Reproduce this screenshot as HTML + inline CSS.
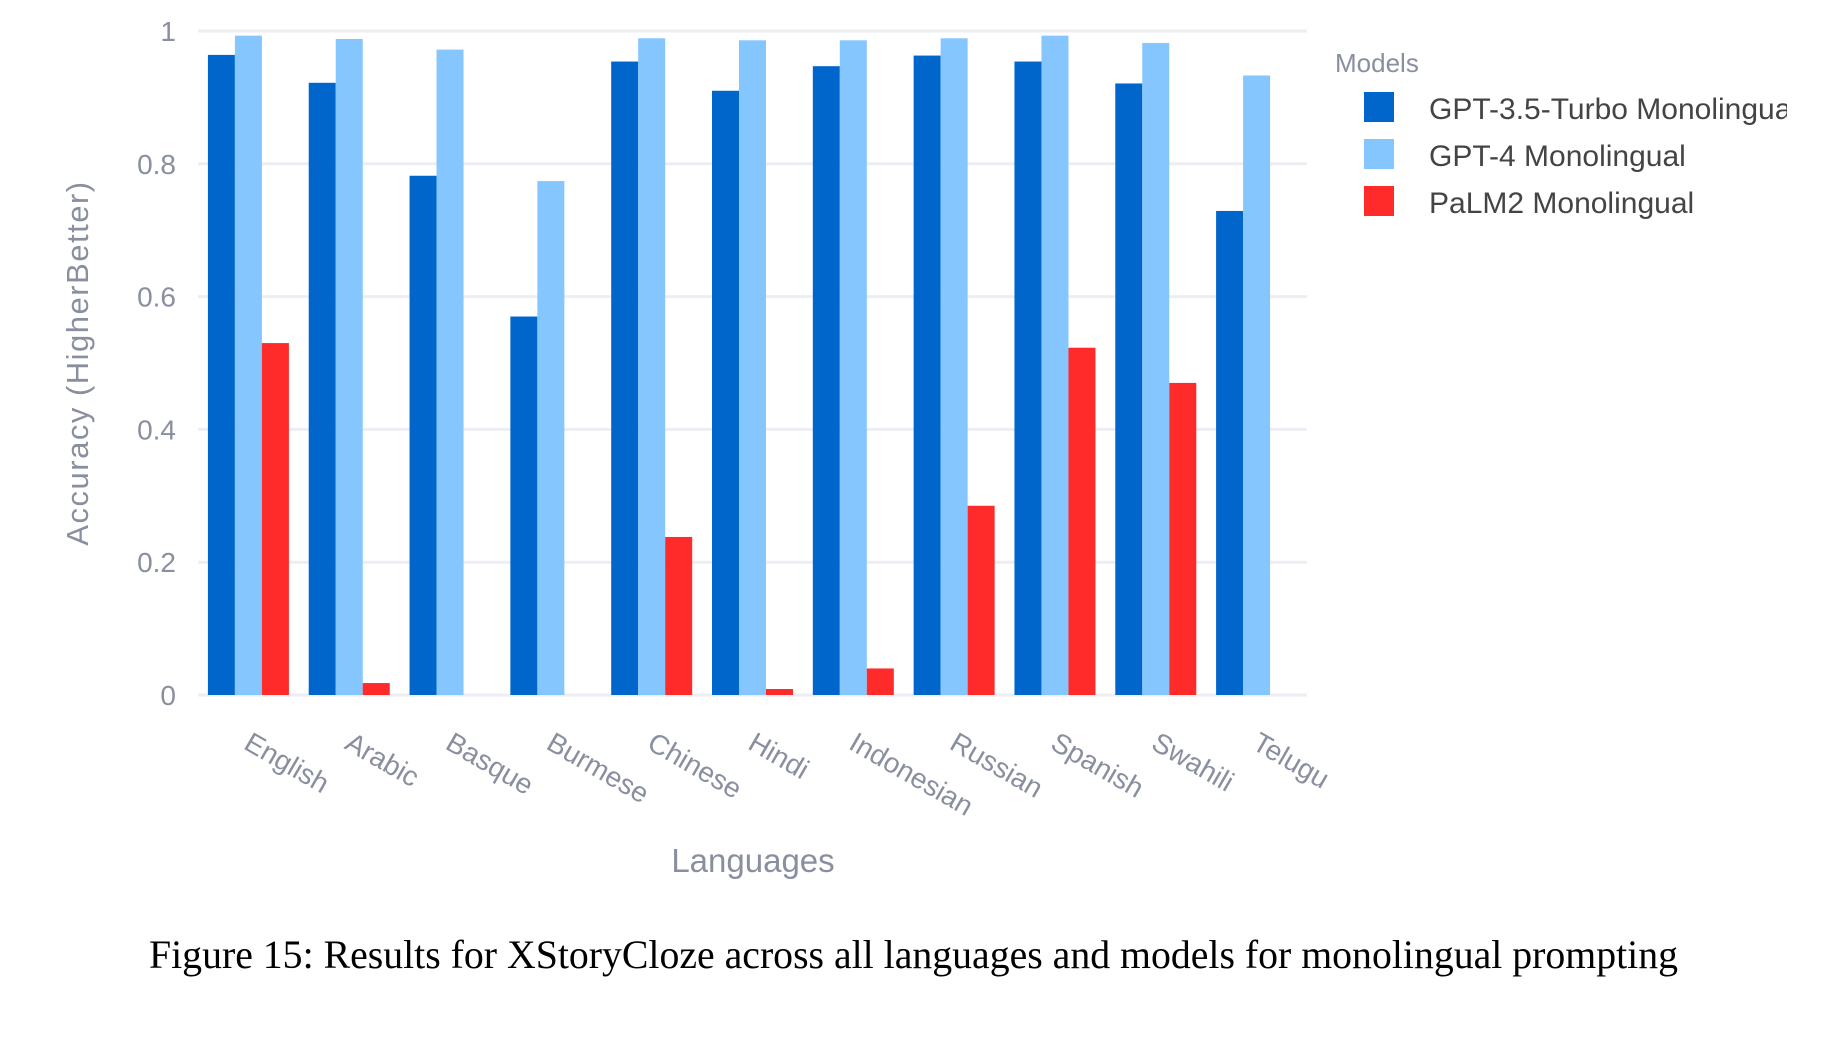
<!DOCTYPE html>
<html><head><meta charset="utf-8"><style>
body{margin:0;background:#fff;width:1833px;height:1037px;overflow:hidden}
svg{display:block}
</style></head><body>
<svg id="chart" width="1833" height="1037" font-family="Liberation Sans, sans-serif">
<g id="grid"></g><g id="bars"></g><g id="xlabels"></g><g id="ylabels"></g>
<text x="753" y="872" font-size="33" fill="#8a8fa0" text-anchor="middle">Languages</text>
<text transform="translate(88,363) rotate(-90)" font-size="31" fill="#8a8fa0" text-anchor="middle" letter-spacing="1.5">Accuracy (HigherBetter)</text>
<text x="1335" y="72" font-size="26" fill="#8a8fa0">Models</text>
<g id="legend"></g>
<text x="149" y="968" font-size="40" font-family="Liberation Serif, serif" fill="#000" textLength="1529" lengthAdjust="spacingAndGlyphs">Figure 15: Results for XStoryCloze across all languages and models for monolingual prompting</text>
</svg>
<script>
const categories=["English","Arabic","Basque","Burmese","Chinese","Hindi","Indonesian","Russian","Spanish","Swahili","Telugu"];
const gpt35=[0.964,0.922,0.782,0.570,0.954,0.910,0.947,0.963,0.954,0.921,0.729];
const gpt4=[0.993,0.988,0.972,0.774,0.989,0.986,0.986,0.989,0.993,0.982,0.933];
const palm2=[0.530,0.018,0,0,0.238,0.009,0.040,0.285,0.523,0.470,0];
const yTicks=[0,0.2,0.4,0.6,0.8,1];
const yTickLabels=["0","0.2","0.4","0.6","0.8","1"];
const seriesNames=["GPT-3.5-Turbo Monolingual","GPT-4 Monolingual","PaLM2 Monolingual"];
const colors=["#0066cc","#85c6ff","#ff2a2a"];
const NS="http://www.w3.org/2000/svg";
const x0=198,x1=1307,y0=695,yspan=664;
const band=(x1-x0)/categories.length,bw=27,pad=(band-3*bw)/2;
function y(v){return y0-v*yspan}
function xb(i,s){return x0+i*band+pad+s*bw}
function mk(t,a,p){const e=document.createElementNS(NS,t);for(const k in a)e.setAttribute(k,a[k]);p.appendChild(e);return e}
const grid=document.getElementById('grid'),yl=document.getElementById('ylabels');
yTicks.forEach((t,i)=>{
 const l=mk('line',{x1:x0,x2:x1,y1:y(t),y2:y(t),stroke:'#eceef4','stroke-width':3},grid);
 
 
 const tx=mk('text',{x:176,y:y(t)+10,'font-size':28,fill:'#8a8fa0','text-anchor':'end'},yl);
 tx.textContent=yTickLabels[i];
 
 
});
const bars=document.getElementById('bars'),xl=document.getElementById('xlabels');
[gpt35,gpt4,palm2].forEach((ser,s)=>{
 ser.forEach((v,i)=>{
  if(v<=0)return;
  const r=mk('rect',{x:xb(i,s),y:y(v),width:bw,height:v*yspan,fill:colors[s]},bars);
  
  
 });
});
categories.forEach((c,i)=>{
 const cx=x0+i*band+band/2;
 const t=mk('text',{transform:`translate(${cx-6},748) rotate(30)`,'font-size':28,fill:'#8a8fa0'},xl);
 t.textContent=c;
 
 
});
const lg=document.getElementById('legend');
seriesNames.forEach((n,i)=>{
 const yy=92+i*47;
 const r=mk('rect',{x:1364,y:yy,width:30,height:30,fill:colors[i]},lg);
 
 
 const t=mk('text',{x:1429,y:yy+27,'font-size':30,fill:'#444'},lg);
 t.textContent=n;
 
 
});
const cp=mk('clipPath',{id:'lc'},lg);mk('rect',{x:1300,y:0,width:487,height:300},cp);
lg.setAttribute('clip-path','url(#lc)');
</script>
</body></html>
